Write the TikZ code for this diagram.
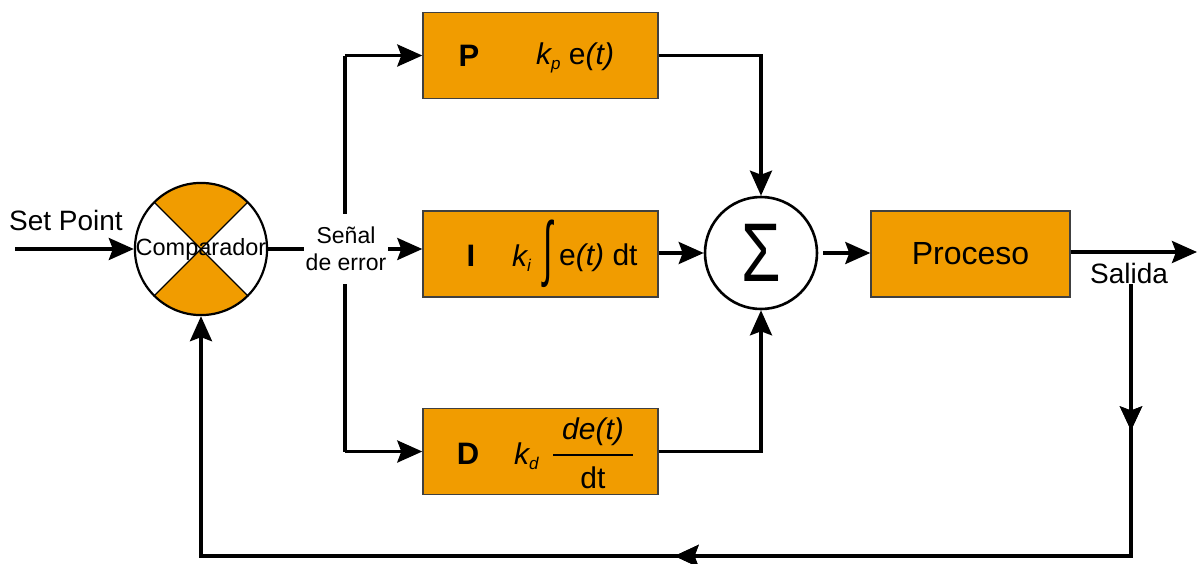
\documentclass[tikz,border=0pt]{standalone}
\usepackage{fontspec}
\setmainfont{Liberation Sans}
\usetikzlibrary{arrows.meta,decorations.markings}
\definecolor{pidorange}{RGB}{241,156,0}
\tikzset{
  conn/.style={line width=3.4pt},
  arr/.style={conn,-{Stealth[length=25pt,width=22pt,inset=4pt]}},
  pidbox/.style={draw=black!75,line width=1.4pt,fill=pidorange,minimum width=235pt,minimum height=86pt,inner sep=0pt},
  boxtext/.style={font=\fontsize{30}{34}\selectfont,inner sep=0pt},
  lbl/.style={font=\fontsize{28}{32}\selectfont,inner sep=1pt},
  midarr/.style={postaction={decorate},decoration={markings,mark=at position #1 with {\arrow{Stealth[length=24pt,width=22pt,inset=4pt]}}}}
}
\newcommand{\subsc}[1]{\raisebox{-0.35ex}{\fontsize{17}{17}\selectfont\itshape #1}}
\begin{document}
\begin{tikzpicture}[x=1pt,y=-1pt]
\useasboundingbox (0,0) rectangle (1200,563);
% comparator
\node[circle,draw,line width=2.2pt,minimum size=132pt,inner sep=0pt,
  font=\fontsize{23.5}{26}\selectfont,
  path picture={
    \fill[pidorange] (path picture bounding box.center) -- ++(100,100) -- ++(-200,0) -- cycle;
    \fill[pidorange] (path picture bounding box.center) -- ++(100,-100) -- ++(-200,0) -- cycle;
    \draw[line width=1.2pt] (path picture bounding box.center) ++(-100,-100) -- ++(200,200);
    \draw[line width=1.2pt] (path picture bounding box.center) ++(-100,100) -- ++(200,-200);
  }] (comp) at (201,249) {Comparador};
% boxes
\node[pidbox] (P) at (540.5,55.5) {};
\node[pidbox] (I) at (540.5,254) {};
\node[pidbox] (D) at (540.5,451.5) {};
\node[pidbox,minimum width=199pt] (proc) at (970.5,254) {};
\node[font=\fontsize{32}{36}\selectfont] (proctext) at (proc.center) {Proceso};
% P box text
\node[boxtext] (Pl) at (469,56) {\fontsize{31}{34}\selectfont\bfseries P};
\node[boxtext,anchor=west] (Pf) at (536,58) {\itshape k\subsc{p}\upshape\ e\itshape(t)};
% I box text
\node[boxtext] (Il) at (471,256) {\fontsize{31}{34}\selectfont\bfseries I};
\node[boxtext,anchor=west] (Ik) at (512,258) {\itshape k\subsc{i}};
\node[inner sep=0pt] (Iint) at (548,254) {\scalebox{1}[2.1]{\fontsize{34}{34}\selectfont ∫}};
\node[boxtext,anchor=west] (If) at (559,258) {e\itshape(t)\upshape\ dt};
% D box text
\node[boxtext] (Dl) at (468,454) {\fontsize{31}{34}\selectfont\bfseries D};
\node[boxtext,anchor=west] (Dk) at (514,456) {\itshape k\subsc{d}};
\node[boxtext] (Dn) at (593,432) {\itshape de(t)};
\node[boxtext] (Dd) at (593,478) {dt};
\coordinate (barL) at (553,455);
\coordinate (barR) at (633,455);
\draw[line width=2.5pt] (barL) -- (barR);
% sigma
\node[circle,draw,line width=2.6pt,minimum size=112pt,inner sep=0pt] (sig) at (761,253)
  {\scalebox{1}[1.3]{\fontsize{64}{64}\selectfont Σ}};
% coordinates
\coordinate (in) at (15,249);
\coordinate (btop) at (345,55.5);
\coordinate (bbot) at (345,451.5);
\coordinate (out) at (1197,252);
\coordinate (fbR) at (1131,556);
\coordinate (fbL) at (201,556);
% connectors
\draw[arr] (in) -- (comp.west);
\draw[arr] (comp.east) -- (comp.east -| I.west);
\draw[conn] (btop) -- (bbot);
\draw[arr] (btop) -- (P.west);
\draw[arr] (bbot) -- (D.west);
\draw[arr] (P.east) -| (sig.north);
\draw[arr] (I.east |- sig.west) -- (sig.west);
\draw[arr] (D.east) -| (sig.south);
\draw[arr,shorten <=5pt] (sig.east) -- (sig.east -| proc.west);
\draw[arr] (proc.east |- out) -- (out);
% labels
\node[lbl] (sp) at (66,220) {Set Point};
\node[fill=white,inner sep=2pt,minimum height=70pt,align=center,font=\fontsize{23}{27}\selectfont] (err) at (346,249) {Señal\\de error};
\node[lbl] (salida) at (1129,273) {Salida};
% feedback
\draw[conn,midarr=146pt,midarr=728pt,-{Stealth[length=25pt,width=22pt,inset=4pt]}] (salida.south -| fbR) -- (fbR) -- (fbL) -- (comp.south);
\end{tikzpicture}
\end{document}
